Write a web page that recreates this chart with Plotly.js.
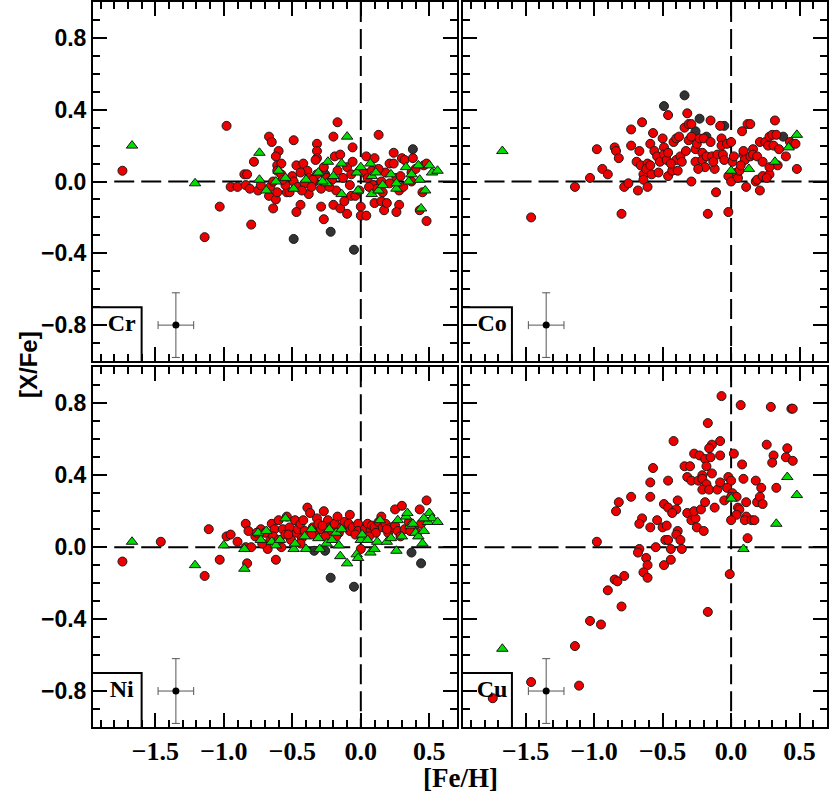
<!DOCTYPE html>
<html>
<head>
<meta charset="utf-8">
<script src="https://cdn.plot.ly/plotly-3.0.1.min.js"></script>
<style>
  html, body { margin: 0; padding: 0; background: #fff; }
  #chart { width: 830px; height: 796px; }
</style>
</head>
<body>
<div id="chart"></div>
<script>
// [Fe/H], [X/Fe] pairs
const crRed = [
  [-1.74, 0.06], [-0.98, 0.31], [-1.14, -0.31], [-1.03, -0.14], [-0.80, -0.24], [-0.78, 0.11],
  [-0.95, -0.03], [-0.90, -0.03], [-0.85, 0.04], [-0.83, 0.04], [-0.84, -0.02], [-0.81, -0.04],
  [-0.75, -0.05], [-0.73, -0.02], [-0.67, 0.25], [-0.65, 0.22], [-0.60, 0.17], [-0.62, 0.14],
  [-0.61, 0.09], [-0.58, 0.10], [-0.61, 0.06], [-0.58, 0.04], [-0.66, -0.03], [-0.64, 0.00],
  [-0.67, -0.08], [-0.62, -0.10], [-0.64, -0.15], [-0.61, -0.06], [-0.54, -0.06], [-0.52, -0.06],
  [-0.49, 0.23], [-0.47, 0.09], [-0.50, 0.03], [-0.49, 0.00], [-0.46, -0.03], [-0.44, -0.13],
  [-0.47, -0.17], [-0.42, 0.10], [-0.39, 0.06], [-0.38, 0.02], [-0.41, -0.01], [-0.38, -0.07],
  [-0.32, 0.21], [-0.32, 0.17], [-0.32, 0.13], [-0.33, 0.12], [-0.32, 0.04], [-0.29, -0.04],
  [-0.29, -0.14], [-0.27, -0.21], [-0.35, 0.01], [-0.25, 0.02], [-0.20, 0.25], [-0.17, 0.33],
  [-0.19, 0.14], [-0.15, 0.15], [-0.17, 0.06], [-0.21, 0.01], [-0.18, -0.05], [-0.20, -0.13],
  [-0.15, -0.15], [-0.12, -0.11], [-0.10, -0.18], [-0.10, 0.08], [-0.06, 0.11], [-0.06, 0.19],
  [-0.07, 0.04], [-0.08, -0.02], [-0.07, -0.08], [-0.04, -0.08], [-0.01, -0.05], [0.00, -0.14],
  [0.00, -0.19], [0.04, -0.19], [0.04, 0.14], [0.02, 0.05], [0.05, 0.02], [0.08, 0.06],
  [0.09, -0.02], [0.13, 0.26], [0.10, 0.13], [0.12, -0.04], [0.15, 0.00], [0.16, -0.06],
  [0.10, -0.12], [0.15, -0.11], [0.17, -0.16], [0.18, 0.05], [0.19, -0.12], [0.21, 0.10],
  [0.24, 0.10], [0.24, 0.16], [0.26, 0.02], [0.28, -0.13], [0.26, -0.17], [0.28, -0.05],
  [0.30, 0.13], [0.32, 0.12], [0.29, 0.03], [0.37, 0.05], [0.38, 0.13], [0.45, -0.06],
  [0.48, -0.22], [0.43, -0.16], [0.46, 0.09], [0.48, 0.10], [0.37, 0.00], [0.31, -0.03],
  [-0.55, -0.02], [-0.43, -0.05], [-0.36, -0.03], [-0.23, -0.03], [-0.13, 0.02], [0.06, -0.03],
  [0.21, -0.01], [-0.44, 0.05], [-0.27, 0.08], [0.13, 0.07], [-0.57, 0.01], [0.40, 0.07]
];
const crGreen = [
  [-1.67, 0.20], [-1.21, -0.01], [-0.74, 0.16], [-0.74, 0.01], [-0.69, -0.05], [-0.62, 0.00],
  [-0.60, 0.06], [-0.49, -0.04], [-0.40, 0.01], [-0.31, 0.05], [-0.25, -0.01], [-0.24, 0.11],
  [-0.20, 0.03], [-0.14, 0.10], [-0.10, 0.25], [-0.14, -0.07], [-0.03, 0.05], [0.00, 0.08],
  [-0.02, -0.05], [0.07, 0.10], [0.08, 0.03], [0.08, -0.07], [0.11, 0.05], [0.13, -0.05],
  [0.16, -0.02], [0.22, 0.04], [0.26, -0.04], [0.26, -0.01], [0.33, 0.08], [0.35, 0.00],
  [0.37, 0.04], [0.42, 0.09], [0.43, 0.01], [0.50, 0.09], [0.52, 0.05], [0.56, 0.06],
  [0.47, -0.05], [0.44, -0.15], [-0.28, 0.00], [-0.55, 0.02]
];
const crBlack = [
  [0.38, 0.18], [-0.49, -0.32], [-0.22, -0.28], [-0.05, -0.38], [-0.26, 0.04], [-0.34, 0.00]
];

const coRed = [
  [-1.46, -0.20], [-1.14, -0.03], [-1.03, 0.02], [-0.98, 0.18], [-0.94, 0.07], [-0.90, 0.04],
  [-0.85, 0.19], [-0.84, 0.17], [-0.82, 0.13], [-0.80, -0.18], [-0.78, -0.03], [-0.75, -0.01],
  [-0.73, 0.29], [-0.73, 0.20], [-0.67, 0.17], [-0.68, -0.05], [-0.69, 0.11], [-0.66, 0.09],
  [-0.64, 0.04], [-0.64, 0.01], [-0.65, 0.33], [-0.61, 0.10], [-0.62, 0.07], [-0.61, -0.03],
  [-0.59, 0.09], [-0.58, 0.04], [-0.59, 0.21], [-0.57, 0.27], [-0.56, 0.17], [-0.54, 0.14],
  [-0.52, 0.11], [-0.50, 0.24], [-0.49, 0.19], [-0.49, 0.15], [-0.46, 0.37], [-0.47, 0.12],
  [-0.46, 0.03], [-0.46, 0.16], [-0.43, 0.06], [-0.42, 0.22], [-0.40, 0.24], [-0.39, 0.06],
  [-0.40, 0.12], [-0.38, 0.25], [-0.37, 0.14], [-0.36, 0.11], [-0.34, 0.30], [-0.32, 0.38],
  [-0.31, 0.32], [-0.29, 0.32], [-0.31, 0.23], [-0.29, 0.25], [-0.29, 0.00], [-0.26, 0.18],
  [-0.26, 0.11], [-0.25, 0.21], [-0.23, 0.24], [-0.21, 0.16], [-0.21, 0.12], [-0.20, 0.24],
  [-0.19, 0.08], [-0.18, 0.14], [-0.17, -0.18], [-0.15, 0.22], [-0.15, 0.34], [-0.14, 0.14],
  [-0.12, 0.07], [-0.11, -0.06], [-0.10, 0.15], [-0.08, 0.31], [-0.07, 0.24], [-0.07, 0.20],
  [-0.06, 0.15], [-0.05, 0.12], [-0.03, 0.21], [-0.02, 0.03], [-0.02, -0.17], [0.00, 0.22],
  [0.00, 0.00], [0.01, 0.11], [0.02, 0.14], [0.04, 0.05], [0.05, 0.02], [0.06, 0.06],
  [0.08, 0.28], [0.09, 0.15], [0.09, 0.17], [0.10, 0.12], [0.11, -0.03], [0.12, 0.32],
  [0.14, 0.32], [0.14, 0.14], [0.16, 0.18], [0.16, 0.15], [0.18, 0.00], [0.19, 0.01],
  [0.19, 0.14], [0.21, 0.22], [0.21, -0.05], [0.23, 0.11], [0.23, 0.03], [0.25, 0.22],
  [0.27, 0.20], [0.28, 0.25], [0.28, 0.04], [0.30, 0.26], [0.32, 0.34], [0.31, 0.20],
  [0.33, 0.26], [0.34, 0.09], [0.35, 0.18], [0.40, 0.14], [0.43, 0.22], [0.45, 0.21],
  [0.47, 0.21], [0.48, 0.07], [0.28, 0.08], [0.26, 0.02], [-0.44, 0.10], [-0.33, 0.17],
  [-0.53, 0.05], [-0.24, 0.07], [-0.13, 0.11], [0.07, 0.09]
];
const coGreen = [
  [-1.67, 0.17], [0.00, 0.06], [0.13, 0.07], [0.32, 0.11], [0.42, 0.19], [0.48, 0.26]
];
const coBlack = [
  [-0.49, 0.42], [-0.34, 0.48], [-0.23, 0.35], [-0.26, 0.28], [-0.05, 0.31], [0.38, 0.25],
  [-0.18, 0.25]
];

const niRed = [
  [-1.74, -0.08], [-1.46, 0.03], [-1.14, -0.16], [-1.11, 0.10], [-1.03, -0.07], [-0.98, 0.06],
  [-0.95, 0.07], [-0.90, 0.03], [-0.84, 0.13], [-0.82, 0.09], [-0.84, 0.00], [-0.80, 0.00],
  [-0.83, -0.09], [-0.77, 0.06], [-0.73, 0.10], [-0.70, 0.08], [-0.68, -0.01], [-0.66, 0.04],
  [-0.65, 0.13], [-0.63, 0.10], [-0.62, -0.07], [-0.60, 0.15], [-0.58, 0.00], [-0.57, 0.10],
  [-0.55, 0.07], [-0.54, 0.17], [-0.52, 0.11], [-0.51, 0.04], [-0.48, 0.15], [-0.47, 0.08],
  [-0.46, 0.10], [-0.44, 0.13], [-0.43, 0.05], [-0.42, 0.15], [-0.41, 0.09], [-0.39, 0.22],
  [-0.37, 0.19], [-0.35, 0.11], [-0.33, 0.08], [-0.32, 0.16], [-0.31, 0.13], [-0.29, 0.10],
  [-0.27, 0.20], [-0.26, 0.06], [-0.24, 0.15], [-0.23, 0.11], [-0.21, 0.09], [-0.19, 0.13],
  [-0.17, 0.17], [-0.16, 0.08], [-0.14, 0.11], [-0.12, 0.14], [-0.09, 0.13], [-0.08, 0.18],
  [-0.08, 0.09], [-0.06, 0.11], [-0.02, 0.13], [-0.02, 0.09], [0.00, -0.01], [0.03, 0.10],
  [0.05, 0.13], [0.07, 0.09], [0.08, 0.12], [0.10, 0.11], [0.11, 0.08], [0.13, 0.14],
  [0.15, 0.17], [0.16, 0.11], [0.18, 0.13], [0.20, 0.08], [0.22, 0.11], [0.25, 0.21],
  [0.25, 0.12], [0.27, 0.09], [0.30, 0.23], [0.32, 0.10], [0.35, 0.14], [0.38, 0.11],
  [0.43, 0.21], [0.44, 0.13], [0.48, 0.26], [0.41, 0.08], [-0.53, 0.07], [-0.64, 0.06],
  [-0.60, 0.04], [-0.72, 0.02], [-0.76, 0.08], [-0.44, 0.02], [-0.36, 0.07], [-0.28, 0.12],
  [-0.18, 0.06], [-0.04, 0.07], [0.06, 0.06], [0.19, 0.10], [0.29, 0.06], [0.36, 0.09]
];
const niGreen = [
  [-1.67, 0.03], [-1.21, -0.10], [-1.00, 0.01], [-0.85, -0.01], [-0.85, -0.12], [-0.75, 0.08],
  [-0.73, 0.04], [-0.69, 0.09], [-0.65, 0.03], [-0.62, 0.01], [-0.59, 0.04], [-0.55, 0.16],
  [-0.49, -0.01], [-0.48, 0.02], [-0.40, -0.01], [-0.41, 0.06], [-0.36, 0.10], [-0.31, 0.05],
  [-0.30, -0.01], [-0.25, 0.02], [-0.23, 0.10], [-0.21, 0.04], [-0.18, 0.08], [-0.16, 0.01],
  [-0.15, -0.05], [-0.14, 0.10], [-0.10, -0.09], [-0.03, -0.04], [-0.02, -0.06], [0.00, 0.04],
  [0.01, 0.07], [0.05, 0.04], [0.07, -0.03], [0.10, -0.01], [0.12, 0.03], [0.14, 0.15],
  [0.19, 0.03], [0.22, 0.05], [0.26, -0.02], [0.27, 0.15], [0.30, 0.06], [0.33, 0.17],
  [0.34, 0.19], [0.36, 0.12], [0.38, 0.13], [0.40, 0.08], [0.42, 0.06], [0.45, 0.02],
  [0.46, 0.09], [0.49, 0.14], [0.50, 0.19], [0.52, 0.16], [0.56, 0.14], [0.46, 0.16]
];
const niBlack = [
  [-0.34, -0.02], [-0.26, -0.02], [-0.22, -0.17], [-0.05, -0.22], [0.37, -0.03], [0.44, -0.09]
];

const cuRed = [
  [-0.07, 0.84], [0.07, 0.79], [0.29, 0.78], [0.44, 0.77], [0.45, 0.77], [-0.17, 0.69],
  [-0.42, 0.59], [-0.08, 0.59], [-0.14, 0.57], [-0.16, 0.55], [-0.27, 0.52], [-0.23, 0.51],
  [-0.19, 0.49], [-0.15, 0.50], [-0.08, 0.51], [0.02, 0.52], [0.26, 0.57], [0.31, 0.51],
  [0.41, 0.55], [0.40, 0.50], [0.30, 0.47], [0.45, 0.48], [-0.57, 0.44], [-0.34, 0.45],
  [-0.30, 0.45], [-0.18, 0.45], [-0.14, 0.41], [-0.21, 0.40], [0.08, 0.46], [-0.59, 0.36],
  [-0.46, 0.37], [-0.32, 0.39], [-0.29, 0.37], [-0.24, 0.37], [-0.21, 0.38], [-0.18, 0.35],
  [-0.21, 0.32], [-0.16, 0.32], [-0.10, 0.32], [-0.08, 0.36], [-0.02, 0.39], [0.00, 0.37],
  [-0.03, 0.33], [0.01, 0.30], [0.09, 0.38], [0.18, 0.37], [0.22, 0.33], [0.33, 0.33],
  [-0.73, 0.28], [-0.82, 0.25], [-0.84, 0.20], [-0.59, 0.28], [-0.49, 0.24], [-0.46, 0.22],
  [-0.40, 0.21], [-0.43, 0.19], [-0.39, 0.26], [-0.32, 0.19], [-0.29, 0.15], [-0.26, 0.16],
  [-0.27, 0.20], [-0.22, 0.21], [-0.19, 0.25], [-0.12, 0.22], [-0.05, 0.26], [0.00, 0.28],
  [0.04, 0.28], [0.05, 0.22], [0.06, 0.21], [0.11, 0.25], [0.04, 0.18], [0.11, 0.17],
  [0.10, 0.15], [0.15, 0.15], [0.17, 0.15], [0.19, 0.25], [0.21, 0.28], [0.23, 0.24],
  [0.00, 0.15], [-0.65, 0.16], [-0.67, 0.13], [-0.59, 0.11], [-0.54, 0.15], [-0.50, 0.11],
  [-0.47, 0.12], [-0.39, 0.09], [-0.40, 0.07], [-0.37, 0.04], [-0.48, 0.04], [-0.46, 0.04],
  [-0.25, 0.11], [-0.20, 0.09], [0.12, 0.05], [-0.98, 0.03], [-0.55, 0.00], [-0.67, -0.01],
  [-0.68, -0.03], [-0.44, -0.01], [-0.36, -0.01], [-0.62, -0.06], [-0.61, -0.10], [-0.64, -0.14],
  [-0.61, -0.17], [-0.49, -0.10], [-0.44, -0.07], [-0.78, -0.16], [-0.85, -0.18], [-0.83, -0.19],
  [-0.90, -0.24], [-0.80, -0.33], [-1.03, -0.41], [-0.95, -0.43], [-1.14, -0.55], [-0.17, -0.36],
  [-0.01, -0.15], [-1.46, -0.75], [-1.11, -0.77], [-1.74, -0.84]
];
const cuGreen = [
  [-1.67, -0.565], [0.00, 0.27], [0.09, -0.01], [0.33, 0.13], [0.41, 0.39], [0.48, 0.29]
];

// typical error bar shown in each panel
const errX = [-1.35];
const errY = [-0.8];
const errDX = [0.13];
const errDY = [0.18];

// guides: dashed zero lines and the element label box
const hLineX = [-1.8, 0.7];
const hLineY = [0, 0];
const vLineX = [0, 0];
const vLineY = [1.0, -1.0];
const boxX = [-1.97, -1.6, -1.6];
const boxY = [-0.7, -0.7, -1.05];
const labelX = [-1.745];
const labelY = [-0.8];

const panels = [
  { name: 'Cr', n: '', red: crRed, green: crGreen, black: crBlack },
  { name: 'Co', n: '2', red: coRed, green: coGreen, black: coBlack },
  { name: 'Ni', n: '3', red: niRed, green: niGreen, black: niBlack },
  { name: 'Cu', n: '4', red: cuRed, green: cuGreen, black: [] }
];

const traces = [];

panels.forEach(p => {
  const xa = 'x' + p.n, ya = 'y' + p.n;
  const line = (xs, ys, dash) => ({
    x: xs, y: ys, xaxis: xa, yaxis: ya, type: 'scatter', mode: 'lines',
    line: { color: '#000', width: 2, dash: dash }, showlegend: false
  });
  traces.push(line(hLineX, hLineY, '20px,7px'));
  traces.push(line(vLineX, vLineY, '20px,7px'));
  traces.push(line(boxX, boxY, 'solid'));

  const mk = (pts, symbol, color, size) => ({
    x: pts.map(d => d[0]),
    y: pts.map(d => d[1]),
    xaxis: xa, yaxis: ya,
    type: 'scatter', mode: 'markers',
    marker: { symbol: symbol, color: color, size: size, line: { color: '#1a1a1a', width: 1 } },
    showlegend: false
  });
  if (p.black.length) traces.push(mk(p.black, 'circle', '#333333', 9));
  traces.push(mk(p.red, 'circle', '#ee0000', 9));
  traces.push(mk(p.green, 'triangle-up', '#00dd00', 10));

  // error cross
  traces.push({
    x: errX, y: errY, xaxis: xa, yaxis: ya,
    type: 'scatter', mode: 'markers',
    marker: { color: '#000', size: 7 },
    error_x: { type: 'data', array: errDX, color: '#555', thickness: 1, width: 4 },
    error_y: { type: 'data', array: errDY, color: '#555', thickness: 1, width: 4 },
    showlegend: false
  });

  // element name in the box
  traces.push({
    x: labelX, y: labelY, xaxis: xa, yaxis: ya,
    type: 'scatter', mode: 'text', text: [p.name], textposition: 'middle center',
    textfont: { family: 'Liberation Serif', size: 24, color: '#000', weight: 700 },
    showlegend: false
  });
});

const axisCfg = (domain, labels, isX) => ({
  domain: domain, range: isX ? [-1.955, 0.70] : [-1.0, 1.0],
  showline: true, mirror: 'ticks', linecolor: '#000', linewidth: 2,
  showgrid: false, zeroline: false,
  ticks: 'inside', ticklen: 14, tickwidth: 2, tickcolor: '#000',
  tick0: 0, dtick: isX ? 0.5 : 0.4, tickformat: '.1f',
  minor: { dtick: 0.1, tick0: 0, ticks: 'inside', ticklen: 7, tickwidth: 2, tickcolor: '#000' },
  showticklabels: labels,
  tickfont: isX ? { family: 'Liberation Serif', size: 26, color: '#000', weight: 700 }
                : { family: 'Liberation Sans', size: 23, color: '#000', weight: 700 }
});

const layout = {
  width: 830, height: 796,
  margin: { l: 93, r: 3, t: 2, b: 69 },
  showlegend: false,
  xaxis: Object.assign(axisCfg([0, 0.4955], false, true), { anchor: 'y' }),
  yaxis: Object.assign(axisCfg([0.5048, 1], true, false), { anchor: 'x' }),
  xaxis2: Object.assign(axisCfg([0.5045, 1], false, true), { anchor: 'y2' }),
  yaxis2: Object.assign(axisCfg([0.5048, 1], false, false), { anchor: 'x2' }),
  xaxis3: Object.assign(axisCfg([0, 0.4955], true, true), { anchor: 'y3' }),
  yaxis3: Object.assign(axisCfg([0, 0.4961], true, false), { anchor: 'x3' }),
  xaxis4: Object.assign(axisCfg([0.5045, 1], true, true), { anchor: 'y4' }),
  yaxis4: Object.assign(axisCfg([0, 0.4961], false, false), { anchor: 'x4' }),
  annotations: [
    { xref: 'paper', yref: 'paper', x: 0.5, y: -0.071, yanchor: 'middle',
      text: '[Fe/H]', showarrow: false,
      font: { family: 'Liberation Serif', size: 27, color: '#000', weight: 700 } },
    { x: -0.109, y: 0.5, xref: 'paper', yref: 'paper', textangle: -90,
      text: '[X/Fe]', showarrow: false,
      font: { family: 'Liberation Sans', size: 24, color: '#000', weight: 700 } }
  ]
};

Plotly.newPlot('chart', traces, layout, { displayModeBar: false });
</script>
</body>
</html>
